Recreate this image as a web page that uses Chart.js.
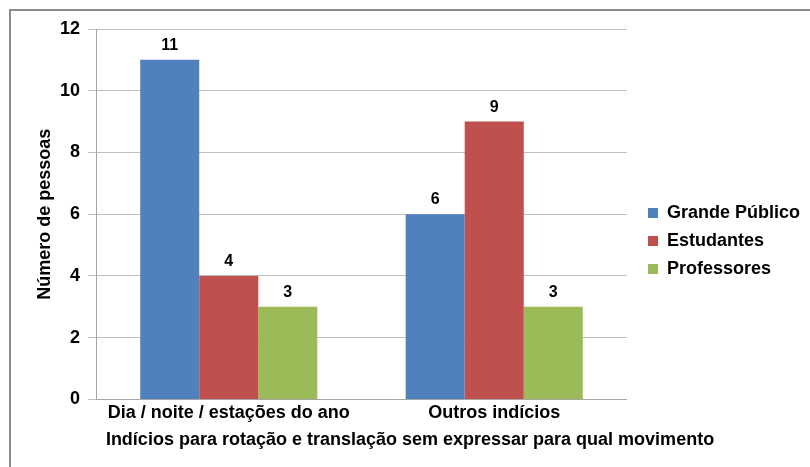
<!DOCTYPE html>
<html><head><meta charset="utf-8">
<script src="https://cdn.jsdelivr.net/npm/chart.js@4"></script>
<style>html,body{margin:0;padding:0;background:#fff}#w{width:810px;height:467px;position:relative}</style>
</head><body><div id="w"><canvas id="c" width="810" height="467"></canvas></div>
<script>
const categories = ['Dia / noite / estações do ano', 'Outros indícios'];
const seriesNames = ['Grande Público', 'Estudantes', 'Professores'];
const grandePublico = [11, 6];
const estudantes = [4, 9];
const professores = [3, 3];
const yTicks = [0, 2, 4, 6, 8, 10, 12];
const seriesColors = ['#4F81BD', '#C0504D', '#9BBB59'];
const yTitle = 'Número de pessoas';
const xTitle = 'Indícios para rotação e translação sem expressar para qual movimento';

const FONT = '"Liberation Sans", Arial, sans-serif';

const framePlugin = {
  id: 'frame',
  beforeDraw(chart) {
    const ctx = chart.ctx;
    ctx.save();
    ctx.fillStyle = '#fff';
    ctx.fillRect(0, 0, chart.width, chart.height);
    ctx.strokeStyle = '#8C8C8C';
    ctx.lineWidth = 2;
    ctx.beginPath();
    ctx.moveTo(10, chart.height);
    ctx.lineTo(10, 10);
    ctx.lineTo(chart.width, 10);
    ctx.stroke();
    ctx.restore();
  }
};

const labelPlugin = {
  id: 'valueLabels',
  afterDatasetsDraw(chart) {
    const ctx = chart.ctx;
    ctx.save();
    ctx.font = 'bold 16px ' + FONT;
    ctx.fillStyle = '#000';
    ctx.textAlign = 'center';
    ctx.textBaseline = 'alphabetic';
    chart.data.datasets.forEach((ds, i) => {
      const meta = chart.getDatasetMeta(i);
      meta.data.forEach((bar, j) => {
        ctx.fillText(String(ds.data[j]), bar.x, bar.y - 10);
      });
    });
    ctx.restore();
  }
};

function build() {
  new Chart(document.getElementById('c'), {
    type: 'bar',
    data: {
      labels: categories,
      datasets: [
        { label: seriesNames[0], data: grandePublico, backgroundColor: seriesColors[0], borderWidth: 0 },
        { label: seriesNames[1], data: estudantes, backgroundColor: seriesColors[1], borderWidth: 0 },
        { label: seriesNames[2], data: professores, backgroundColor: seriesColors[2], borderWidth: 0 }
      ]
    },
    plugins: [framePlugin, labelPlugin],
    options: {
      responsive: false,
      animation: false,
      devicePixelRatio: 1,
      layout: { padding: { top: 29, left: 10, right: 0, bottom: 14 } },
      datasets: { bar: { categoryPercentage: 0.667, barPercentage: 1.0 } },
      plugins: {
        tooltip: { enabled: false },
        legend: {
          position: 'right',
          maxWidth: 260,
          labels: {
            boxWidth: 10, boxHeight: 10, padding: 10,
            color: '#000',
            font: { family: FONT, size: 18, weight: 'bold' }
          }
        },
        title: {
          display: true,
          position: 'bottom',
          text: xTitle,
          color: '#000',
          font: { family: FONT, size: 18, weight: 'bold' },
          padding: { top: 4, bottom: 2 }
        }
      },
      scales: {
        x: {
          grid: { display: false, drawTicks: false },
          border: { display: true, color: '#A6A6A6', width: 1 },
          ticks: { color: '#000', font: { family: FONT, size: 18, weight: 'bold' }, padding: 3, maxRotation: 0 },
          afterFit(s) { s.height = 26; }
        },
        y: {
          min: 0, max: 12,
          afterBuildTicks(s) { s.ticks = yTicks.map(v => ({ value: v })); },
          grid: { color: '#BFBFBF', tickLength: 8, drawTicks: true },
          border: { display: true, color: '#A6A6A6', width: 1 },
          ticks: { color: '#000', font: { family: FONT, size: 18, weight: 'bold' }, padding: 8 },
          title: { display: true, text: yTitle, color: '#000', font: { family: FONT, size: 18, weight: 'bold' }, padding: { top: 24, bottom: 0 } },
          afterFit(s) { s.width = 86; }
        },
        gap: {
          type: 'linear', position: 'right', display: true,
          grid: { display: false, drawTicks: false },
          ticks: { display: false },
          border: { display: false },
          afterFit(s) { s.width = 11; }
        }
      }
    }
  });
}

Promise.all([
  document.fonts.load('bold 18px "Liberation Sans"'),
  document.fonts.load('bold 16px "Liberation Sans"')
]).then(build, build);
</script>
</body></html>
